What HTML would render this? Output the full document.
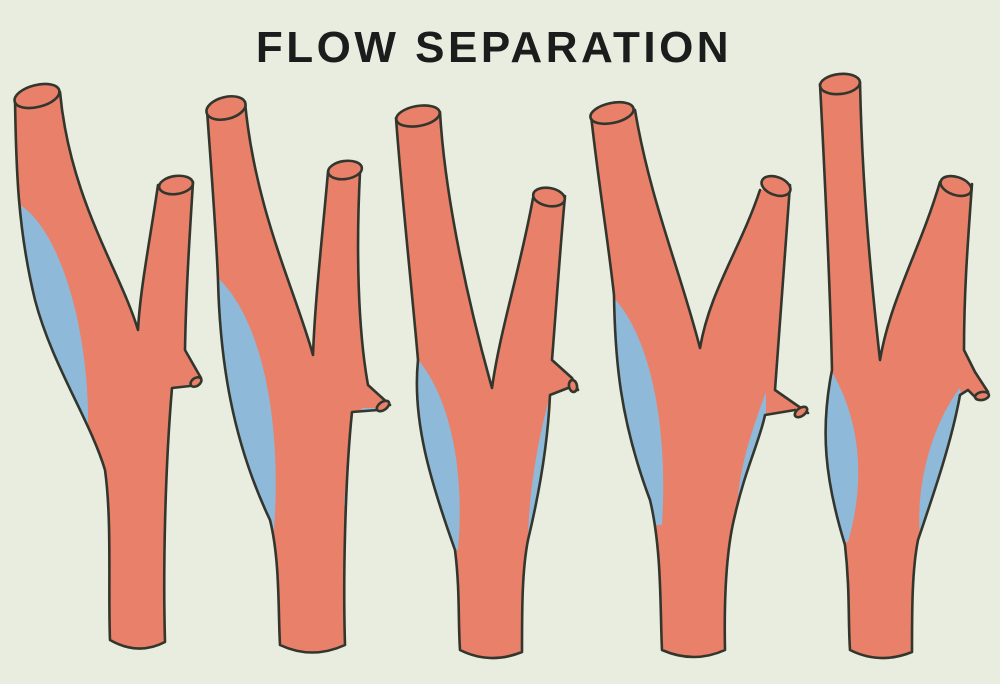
<!DOCTYPE html>
<html><head><meta charset="utf-8"><style>
html,body{margin:0;padding:0;background:#e8ede0;}
svg{display:block}
</style></head><body>
<svg width="1000" height="684" viewBox="0 0 1000 684" xmlns="http://www.w3.org/2000/svg">
<defs>
<path id="o1" d="M15,98 C16,170 18,230 35,300 C52,365 90,420 105,470 C112,520 108,590 110,640 Q138,656 165,642 C163,570 165,470 172,388 L190,386 L201,378 L185,350 C186,290 190,230 193,182 L158,185 C150,240 140,290 138,330 C120,270 70,200 60,92 Z"/>
<path id="o2" d="M207,110 C212,180 216,230 218,280 C220,360 232,440 270,520 C280,560 278,610 280,645 Q312,660 345,645 C343,580 345,480 352,412 L378,410 L390,405 L368,385 C358,330 356,250 360,172 L328,172 C322,240 315,300 313,355 C295,290 255,210 245,102 Z"/>
<path id="o3" d="M396,118 C402,200 412,290 418,360 C412,420 430,480 455,550 C460,590 458,620 460,650 Q490,665 522,652 C522,610 522,570 528,540 C540,490 548,440 550,395 L568,388 L578,390 L572,378 L552,360 C556,310 560,250 565,196 L533,198 C520,270 500,330 492,388 C470,310 445,200 440,112 Z"/>
<path id="o4" d="M591,115 C598,180 608,240 614,295 C615,360 620,420 650,500 C662,550 660,610 662,650 Q694,664 725,650 C724,600 726,550 735,515 C745,470 760,440 765,415 L795,410 L808,413 L775,390 C780,320 785,250 790,185 L760,190 C740,250 710,290 700,348 C680,270 650,200 635,110 Z"/>
<path id="o5" d="M820,84 C825,180 830,280 832,370 C820,430 825,480 845,545 C850,590 848,620 850,650 Q880,665 912,652 C912,610 912,570 918,540 C935,490 952,440 960,395 L968,390 L976,398 L988,392 L975,372 L964,350 C964,290 968,240 972,184 L940,182 C920,250 890,300 880,360 C870,270 862,180 860,82 Z"/>
<clipPath id="c1"><use href="#o1"/></clipPath>
<clipPath id="c2"><use href="#o2"/></clipPath>
<clipPath id="c3"><use href="#o3"/></clipPath>
<clipPath id="c4"><use href="#o4"/></clipPath>
<clipPath id="c5"><use href="#o5"/></clipPath>
</defs>
<rect width="1000" height="684" fill="#e8ede0"/>
<text x="494" y="62" text-anchor="middle" font-family="Liberation Sans, sans-serif" font-weight="bold" font-size="44" letter-spacing="3.5" fill="#1c1c1c">FLOW SEPARATION</text>

<g fill="#e8806a"><use href="#o1"/><use href="#o2"/><use href="#o3"/><use href="#o4"/><use href="#o5"/></g>

<g fill="#8fb9d9">
<path clip-path="url(#c1)" d="M20,205 C60,230 90,330 88,432 L0,432 L0,205 Z"/>
<path clip-path="url(#c2)" d="M218,278 C262,320 282,420 274,530 L190,530 L190,278 Z"/>
<path clip-path="url(#c2)" d="M362,408 C352,440 346,470 344,505 L400,505 L400,408 Z"/>
<path clip-path="url(#c3)" d="M420,362 C450,400 465,470 458,550 L380,550 L380,362 Z"/>
<path clip-path="url(#c3)" d="M550,396 C540,430 528,490 528,545 L600,545 L600,396 Z"/>
<path clip-path="url(#c4)" d="M614,298 C652,340 668,430 662,525 L580,525 L580,298 Z"/>
<path clip-path="url(#c4)" d="M766,392 C752,430 738,470 737,512 L800,512 L800,416 L766,416 Z"/>
<path clip-path="url(#c5)" d="M832,372 C860,420 866,480 848,542 L800,542 L800,372 Z"/>
<path clip-path="url(#c5)" d="M960,388 C935,420 915,480 920,538 L1000,538 L1000,400 L962,400 Z"/>
</g>

<g stroke="#33362c" stroke-width="2.6" stroke-linejoin="round" stroke-linecap="round" fill="none">
<path d="M15,98 C16,170 18,230 35,300 C52,365 90,420 105,470 C112,520 108,590 110,640 Q138,656 165,642 C163,570 165,470 172,388 L190,386 M201,378 L185,350 C186,290 190,230 193,182 M158,185 C150,240 140,290 138,330 C120,270 70,200 60,92"/>
<path d="M207,110 C212,180 216,230 218,280 C220,360 232,440 270,520 C280,560 278,610 280,645 Q312,660 345,645 C343,580 345,480 352,412 L378,410 M390,405 L368,385 C358,330 356,250 360,172 M328,172 C322,240 315,300 313,355 C295,290 255,210 245,102"/>
<path d="M396,118 C402,200 412,290 418,360 C412,420 430,480 455,550 C460,590 458,620 460,650 Q490,665 522,652 C522,610 522,570 528,540 C540,490 548,440 550,395 L568,388 M578,390 L572,378 L552,360 C556,310 560,250 565,196 M533,198 C520,270 500,330 492,388 C470,310 445,200 440,112"/>
<path d="M591,115 C598,180 608,240 614,295 C615,360 620,420 650,500 C662,550 660,610 662,650 Q694,664 725,650 C724,600 726,550 735,515 C745,470 760,440 765,415 L795,410 M808,413 L775,390 C780,320 785,250 790,185 M760,190 C740,250 710,290 700,348 C680,270 650,200 635,110"/>
<path d="M820,84 C825,180 830,280 832,370 C820,430 825,480 845,545 C850,590 848,620 850,650 Q880,665 912,652 C912,610 912,570 918,540 C935,490 952,440 960,395 L968,390 L976,398 M988,392 L975,372 L964,350 C964,290 968,240 972,184 M940,182 C920,250 890,300 880,360 C870,270 862,180 860,82"/>
</g>
<g stroke="#33362c" stroke-width="2.6" fill="#e8806a">
<ellipse cx="37" cy="96" rx="23" ry="11" transform="rotate(-14 37 96)"/>
<ellipse cx="176" cy="185" rx="17" ry="9" transform="rotate(-8 176 185)"/>
<ellipse cx="196" cy="382" rx="6" ry="4" transform="rotate(-35 196 382)"/>
<ellipse cx="226" cy="108" rx="20" ry="11" transform="rotate(-14 226 108)"/>
<ellipse cx="345" cy="170" rx="17" ry="9" transform="rotate(-8 345 170)"/>
<ellipse cx="383" cy="406" rx="7" ry="4" transform="rotate(-35 383 406)"/>
<ellipse cx="418" cy="116" rx="22" ry="10" transform="rotate(-10 418 116)"/>
<ellipse cx="549" cy="197" rx="16" ry="9" transform="rotate(10 549 197)"/>
<ellipse cx="573" cy="386" rx="4" ry="6" transform="rotate(-10 573 386)"/>
<ellipse cx="612" cy="113" rx="22" ry="10" transform="rotate(-12 612 113)"/>
<ellipse cx="776" cy="186" rx="15" ry="9" transform="rotate(20 776 186)"/>
<ellipse cx="801" cy="412" rx="7" ry="4" transform="rotate(-35 801 412)"/>
<ellipse cx="840" cy="84" rx="20" ry="10" transform="rotate(-6 840 84)"/>
<ellipse cx="956" cy="186" rx="16" ry="9" transform="rotate(18 956 186)"/>
<ellipse cx="982" cy="396" rx="7" ry="4" transform="rotate(-10 982 396)"/>
</g>
</svg>
</body></html>
